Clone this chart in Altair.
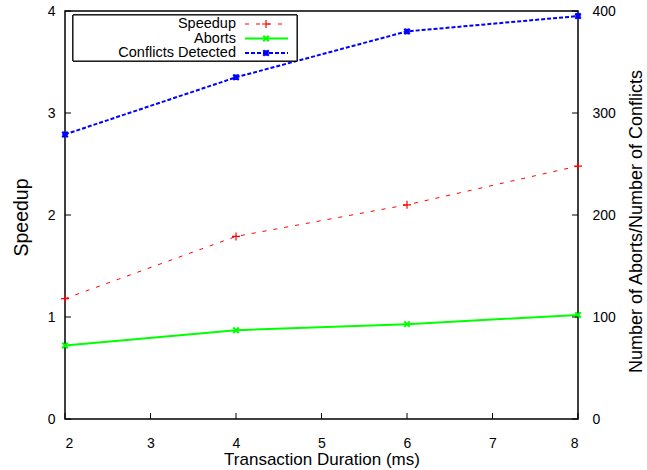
import altair as alt
import pandas as pd

# Measurements per transaction duration
durations = [2, 4, 6, 8]
speedup = [1.18, 1.79, 2.10, 2.48]
aborts = [72, 87, 93, 102]
conflicts = [279, 335, 380, 395]

left_ticks = [0, 1, 2, 3, 4]
right_ticks = [0, 100, 200, 300, 400]
x_ticks = [2, 3, 4, 5, 6, 7, 8]

series_names = ["Speedup", "Aborts", "Conflicts Detected"]
series_colors = ["#ff0000", "#00ff00", "#0000ff"]

W, H = 513, 408
FONT = "Liberation Sans"

df = pd.DataFrame({"d": durations, "speedup": speedup,
                   "aborts": aborts, "conflicts": conflicts})

PLUS = "M-1,0L1,0M0,-1L0,1"
CROSS = "M-1,-1L1,1M-1,1L1,-1"
STAR = "M-1,0L1,0M0,-1L0,1M-1,-1L1,1M-1,1L1,-1"

x_enc = alt.X("d:Q", scale=alt.Scale(domain=[2, 8], nice=False),
              axis=alt.Axis(values=x_ticks, format="d", ticks=False, domain=False, grid=False,
                            labelPadding=17, labelFontSize=14, labelFont=FONT,
                            title="Transaction Duration (ms)", titleFontSize=17,
                            titleFont=FONT, titleFontWeight="normal", titlePadding=1,
                            labelColor="black", titleColor="black"))

y_left_scale = alt.Scale(domain=[0, 4], nice=False)
y_right_scale = alt.Scale(domain=[0, 400], nice=False)

y_left = alt.Y("speedup:Q", scale=y_left_scale,
               axis=alt.Axis(values=left_ticks, format="d", ticks=False, domain=False, grid=False,
                             labelPadding=10, labelFontSize=14, labelFont=FONT,
                             title="Speedup", titleFontSize=19.5, titleFont=FONT,
                             titleFontWeight="normal", titlePadding=16, titleY=206,
                             labelColor="black", titleColor="black"))

base = alt.Chart(df)

# Left-axis series
sp_line = base.mark_line(color=series_colors[0], strokeWidth=1, strokeDash=[4, 7]).encode(x=x_enc, y=y_left)
sp_pts = base.mark_point(shape=PLUS, size=64, color=series_colors[0], strokeWidth=1.2,
                         filled=False, opacity=1).encode(x="d:Q", y="speedup:Q")
lt_df = pd.DataFrame({"v": left_ticks})
lt_rules = alt.Chart(lt_df).mark_rule(color="black", strokeWidth=1).encode(
    y=alt.Y("v:Q"), x=alt.value(0), x2=alt.value(6))
xt_df = pd.DataFrame({"v": x_ticks})
xt_rules = alt.Chart(xt_df).mark_rule(color="black", strokeWidth=1).encode(
    x=alt.X("v:Q"), y=alt.value(H), y2=alt.value(H - 6))
left = alt.layer(sp_line, sp_pts, lt_rules, xt_rules)

# Right-axis series
y_right = alt.Y("aborts:Q", scale=y_right_scale,
                axis=alt.Axis(orient="right", values=right_ticks, ticks=False, domain=False,
                              grid=False, labelPadding=14, labelFontSize=14, labelFont=FONT,
                              title="Number of Aborts/Number of Conflicts", titleFontSize=18,
                              titleFont=FONT, titleFontWeight="normal", titleAngle=270,
                              titleBaseline="top", titlePadding=12, titleY=210,
                              labelColor="black", titleColor="black"))
ab_line = base.mark_line(color=series_colors[1], strokeWidth=2).encode(x="d:Q", y=y_right)
ab_pts = base.mark_point(shape=CROSS, size=30, color=series_colors[1], strokeWidth=2,
                         filled=False, opacity=1).encode(x="d:Q", y="aborts:Q")
cf_line = base.mark_line(color=series_colors[2], strokeWidth=2, strokeDash=[4, 2]).encode(
    x="d:Q", y="conflicts:Q")
cf_pts = base.mark_point(shape=STAR, size=30, color=series_colors[2], strokeWidth=2.2,
                         filled=False, opacity=1).encode(x="d:Q", y="conflicts:Q")
rt_df = pd.DataFrame({"v": right_ticks})
rt_rules = alt.Chart(rt_df).mark_rule(color="black", strokeWidth=1).encode(
    y=alt.Y("v:Q"), x=alt.value(W - 6), x2=alt.value(W))
right = alt.layer(ab_line, ab_pts, cf_line, cf_pts, rt_rules)

# Key box in the upper-left corner
leg_df = pd.DataFrame({"name": series_names})
box = alt.Chart(leg_df).mark_rect(fill="white", stroke="black", strokeWidth=1).encode(
    x=alt.value(8), x2=alt.value(232), y=alt.value(4), y2=alt.value(50))
row_y = [13, 27.5, 42]
key_layers = [box]
line_styles = [dict(strokeWidth=1, strokeDash=[4, 7]), dict(strokeWidth=2), dict(strokeWidth=2, strokeDash=[4, 2])]
shapes = [(PLUS, 64, 1.2), (CROSS, 30, 2), (STAR, 30, 2.2)]
for i, name in enumerate(series_names):
    one = pd.DataFrame({"name": [name]})
    key_layers.append(alt.Chart(one).mark_text(align="right", baseline="middle", fontSize=14.5,
                                               font=FONT, color="black").encode(
        text="name:N", x=alt.value(171), y=alt.value(row_y[i])))
    key_layers.append(alt.Chart(one).mark_rule(color=series_colors[i], **line_styles[i]).encode(
        x=alt.value(180), x2=alt.value(223), y=alt.value(row_y[i])))
    shp, sz, sw = shapes[i]
    key_layers.append(alt.Chart(one).mark_point(shape=shp, size=sz, color=series_colors[i],
                                                strokeWidth=sw, filled=False, opacity=1).encode(
        x=alt.value(201), y=alt.value(row_y[i])))
key = alt.layer(*key_layers)

chart = alt.layer(left, right, key).resolve_scale(y="independent").properties(
    width=W, height=H,
    autosize=alt.AutoSizeParams(type="none"),
    padding={"left": 65, "top": 11, "right": 69, "bottom": 51},
    background="white",
).configure_view(stroke="black", strokeWidth=1.5)

chart.save("out.html", embed_options={"renderer": "svg", "actions": False})
